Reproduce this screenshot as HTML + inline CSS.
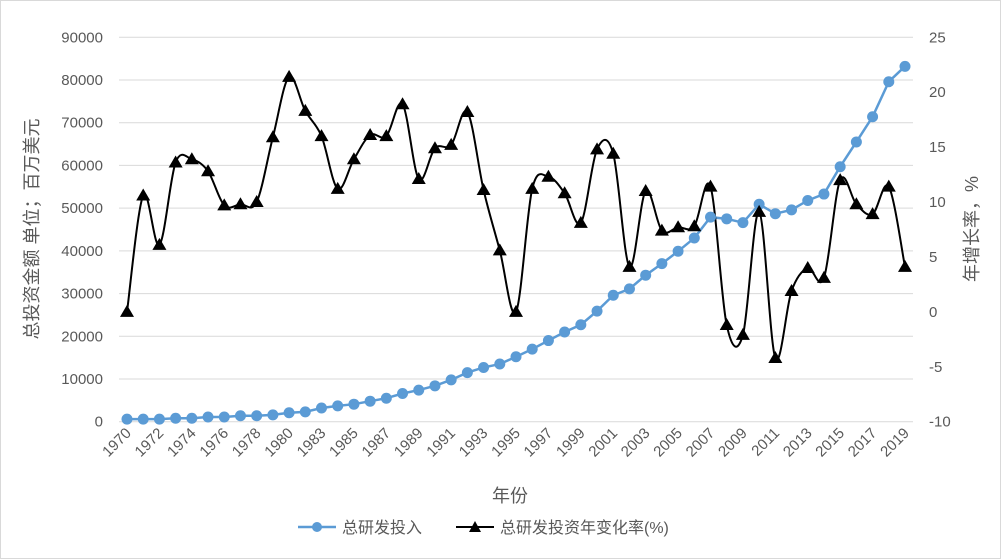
<!DOCTYPE html>
<html><head><meta charset="utf-8">
<style>
body{margin:0;background:#fff;}
svg{display:block;font-family:"Liberation Sans","Noto Sans CJK SC",sans-serif;}
</style></head>
<body>
<svg id="chart" width="1001" height="559">
<rect x="0.5" y="0.5" width="1000" height="558" fill="#fff" stroke="#d9d9d9"/>
<g id="grid"></g>
<g id="axes"></g>
<g id="series"></g>
<text x="38" y="229" transform="rotate(-90 38 229)" text-anchor="middle" font-size="18" fill="#595959">总投资金额 单位；百万美元</text>
<text x="978" y="229" transform="rotate(-90 978 229)" text-anchor="middle" font-size="18" fill="#595959">年增长率，%</text>
<text x="510" y="502" text-anchor="middle" font-size="18" fill="#595959">年份</text>
<g>
<g>
<line x1="298" y1="527" x2="336" y2="527" stroke="#5b9bd5" stroke-width="2.5"/>
<circle cx="317" cy="527" r="5" fill="#5b9bd5"/>
<text x="342" y="533" font-size="16" fill="#595959">总研发投入</text>
</g>
<g>
<line x1="456" y1="527" x2="494" y2="527" stroke="#000" stroke-width="2"/>
<polygon points="475,521 481,532 469,532" fill="#000"/>
<text x="500" y="533" font-size="16" fill="#595959">总研发投资年变化率(%)</text>
</g>
</g>
</svg>
<script>
const years=[1970,1971,1972,1973,1974,1975,1976,1977,1978,1979,1980,1982,1983,1984,1985,1986,1987,1988,1989,1990,1991,1992,1993,1994,1995,1996,1997,1998,1999,2000,2001,2002,2003,2004,2005,2006,2007,2008,2009,2010,2011,2012,2013,2014,2015,2016,2017,2018,2019];
const rdTotal=[600,600,600,800,800,1100,1100,1400,1400,1600,2100,2300,3200,3700,4100,4800,5500,6600,7400,8400,9800,11500,12700,13500,15200,17000,19000,21000,22700,25900,29600,31100,34300,37000,39900,43000,47900,47500,46600,50900,48700,49600,51800,53300,59700,65500,71400,79600,83200];
const growth=[0,10.6,6.1,13.6,13.9,12.8,9.7,9.8,10.0,15.9,21.4,18.3,16.0,11.2,13.9,16.1,16.0,18.9,12.1,14.9,15.2,18.2,11.1,5.6,0,11.2,12.3,10.8,8.1,14.8,14.4,4.1,11.0,7.4,7.7,7.8,11.4,-1.2,-2.1,9.1,-4.2,1.9,4.0,3.1,12.0,9.8,8.9,11.4,4.1];
const leftTicks=[0,10000,20000,30000,40000,50000,60000,70000,80000,90000];
const rightTicks=[-10,-5,0,5,10,15,20,25];

const NS="http://www.w3.org/2000/svg";
const X0=127,X1=905,Y0=421.7,Y1=37.3,PL=119,PR=913;
const xS=i=>X0+i*(X1-X0)/(years.length-1);
const yL=v=>Y0-(v/90000)*(Y0-Y1);
const yR=v=>Y0-((v+10)/35)*(Y0-Y1);
function mk(tag,attrs,parent){const e=document.createElementNS(NS,tag);for(const k in attrs)e.setAttribute(k,attrs[k]);parent.appendChild(e);return e;}
const grid=document.getElementById('grid'),axes=document.getElementById('axes'),ser=document.getElementById('series');
leftTicks.forEach(t=>{
  const g=mk('line',{x1:PL,x2:PR,y1:yL(t),y2:yL(t),stroke:'#d9d9d9','stroke-width':1},grid);
  
  
  const tx=mk('text',{x:103,y:yL(t)+5,'text-anchor':'end','font-size':15,fill:'#595959'},axes);
  tx.textContent=t;
  
  
});
rightTicks.forEach(t=>{
  const tx=mk('text',{x:929,y:yR(t)+5,'text-anchor':'start','font-size':15,fill:'#595959'},axes);
  tx.textContent=t;
  
  
});
years.forEach((y,i)=>{
  if(i%2)return;
  const x=xS(i);
  const tx=mk('text',{x:x+5,y:434,'text-anchor':'end','font-size':15,fill:'#595959',transform:`rotate(-45 ${x+5} 434)`},axes);
  tx.textContent=y;
  
  
});
// blue series
const bp=rdTotal.map((v,i)=>[xS(i),yL(v)]);
const bl=mk('polyline',{points:bp.map(p=>p.join(',')).join(' '),fill:'none',stroke:'#5b9bd5','stroke-width':2.5},ser);


// black smooth series
const kp=growth.map((v,i)=>[xS(i),yR(v)]);
let d=`M${kp[0][0]},${kp[0][1]}`;
for(let i=0;i<kp.length-1;i++){
  const p0=kp[Math.max(0,i-1)],p1=kp[i],p2=kp[i+1],p3=kp[Math.min(kp.length-1,i+2)];
  const t=1/6;
  d+=` C${p1[0]+(p2[0]-p0[0])*t},${p1[1]+(p2[1]-p0[1])*t} ${p2[0]-(p3[0]-p1[0])*t},${p2[1]-(p3[1]-p1[1])*t} ${p2[0]},${p2[1]}`;
}
const kl=mk('path',{d:d,fill:'none',stroke:'#000','stroke-width':2},ser);


bp.forEach(p=>{
  const c=mk('circle',{cx:p[0],cy:p[1],r:5.5,fill:'#5b9bd5'},ser);
  
  
});
kp.forEach(p=>{
  const t=mk('polygon',{points:`${p[0]},${p[1]-7} ${p[0]+7},${p[1]+5} ${p[0]-7},${p[1]+5}`,fill:'#000'},ser);
  
  
});
</script>
</body></html>
